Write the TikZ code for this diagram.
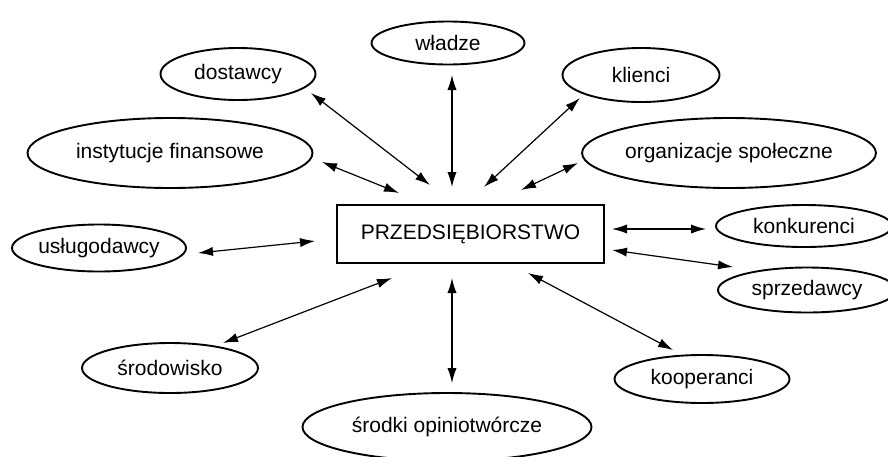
\documentclass[tikz,border=0pt]{standalone}
\usepackage{fontspec}
\setmainfont{Liberation Sans}
\usetikzlibrary{shapes.geometric,arrows.meta}
\begin{document}
\begin{tikzpicture}[x=0.5pt,y=-0.5pt,
  every node/.style={font=\fontsize{10.5}{12.6}\selectfont, inner sep=0pt},
  oval/.style={ellipse, draw, line width=0.95pt},
  mainbox/.style={rectangle, draw, line width=0.95pt},
  link/.style={line width=0.6pt, {Latex[length=7.5pt,width=4.6pt]}-{Latex[length=7.5pt,width=4.6pt]}}]
\useasboundingbox (0,0) rectangle (888,456);

% central box
\node[mainbox, minimum width=133.5pt, minimum height=29pt] (firm) at (470.5,234) {PRZEDSIĘBIORSTWO};

% surrounding ellipses
\node[oval, minimum width=76.5pt, minimum height=21.5pt] (wladze) at (448,43) {władze};
\node[oval, minimum width=77.5pt, minimum height=26pt] (dost) at (238,74) {dostawcy};
\node[oval, minimum width=78.5pt, minimum height=27pt] (klienci) at (641,75) {klienci};
\node[oval, minimum width=142.5pt, minimum height=35pt] (inst) at (170,153) {instytucje finansowe};
\node[oval, minimum width=144pt, minimum height=35pt] (org) at (729,153) {organizacje społeczne};
\node[oval, minimum width=87pt, minimum height=23.5pt] (uslug) at (99,248) {usługodawcy};
\node[oval, minimum width=88pt, minimum height=21pt] (konk) at (804,226) {konkurenci};
\node[oval, minimum width=89pt, minimum height=22.5pt] (sprz) at (807,290) {sprzedawcy};
\node[oval, minimum width=88pt, minimum height=25pt] (srod) at (170,368) {środowisko};
\node[oval, minimum width=87.5pt, minimum height=24pt] (koop) at (702,379) {kooperanci};
\node[oval, minimum width=144.5pt, minimum height=34pt] (media) at (447,427) {środki opiniotwórcze};

% arrow end points between the ellipses and the box
\coordinate (wladze-e) at (452,75);   \coordinate (wladze-f) at (452,187);
\coordinate (dost-e) at (311,93);     \coordinate (dost-f) at (430,185);
\coordinate (klienci-e) at (580,98);  \coordinate (klienci-f) at (484,187);
\coordinate (inst-e) at (322,162);    \coordinate (inst-f) at (399,193);
\coordinate (org-e) at (578,163);     \coordinate (org-f) at (521,190);
\coordinate (uslug-e) at (198,253);   \coordinate (uslug-f) at (315,241);
\coordinate (konk-e) at (706,229);    \coordinate (konk-f) at (612,229);
\coordinate (sprz-e) at (733,267);    \coordinate (sprz-f) at (612,250);
\coordinate (srod-e) at (223,343);    \coordinate (srod-f) at (392,278);
\coordinate (media-e) at (452,383);   \coordinate (media-f) at (452,278);
\coordinate (koop-e) at (673,350);    \coordinate (koop-f) at (528,273);

\foreach \n in {wladze,dost,klienci,inst,org,uslug,konk,sprz,srod,media,koop}
  \draw[link] (\n-e) -- (\n-f);
\end{tikzpicture}
\end{document}
